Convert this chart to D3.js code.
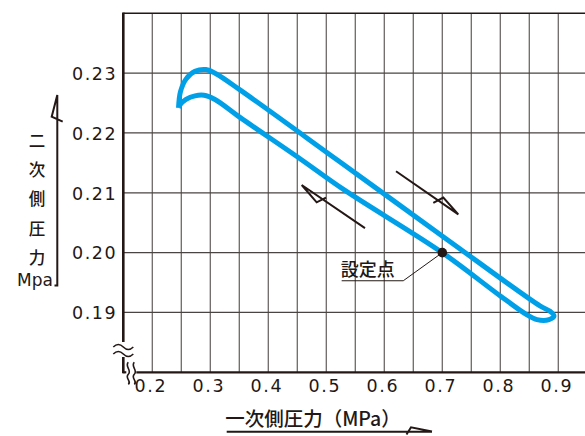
<!DOCTYPE html>
<html><head><meta charset="utf-8">
<script src="https://cdn.jsdelivr.net/npm/d3@7"></script>
<style>body{margin:0;background:#fff}svg{display:block}</style>
</head><body>
<svg id="c" width="585" height="436"></svg>
<script>
// ---- data ----
const xTickValues = [0.2, 0.3, 0.4, 0.5, 0.6, 0.7, 0.8, 0.9];
const xTickLabels = ["0.2", "0.3", "0.4", "0.5", "0.6", "0.7", "0.8", "0.9"];
const xGridValues = [0.2, 0.25, 0.3, 0.35, 0.4, 0.45, 0.5, 0.55, 0.6, 0.65, 0.7, 0.75, 0.8, 0.85, 0.9, 0.95];
const yTickValues = [0.19, 0.20, 0.21, 0.22, 0.23];
const yTickLabels = ["0.19", "0.20", "0.21", "0.22", "0.23"];
// hysteresis loop (primary pressure MPa, secondary pressure MPa)
const loopX = [0.2452, 0.2486, 0.2581, 0.2736, 0.2926, 0.3098, 0.3512, 0.5202, 0.7081, 0.8684, 0.8857, 0.8926, 0.8840, 0.8633, 0.8460, 0.7995, 0.7000, 0.5322, 0.4547, 0.3512, 0.3081, 0.2891, 0.2736, 0.2581, 0.2478, 0.2452];
const loopY = [0.2242, 0.2269, 0.2290, 0.2303, 0.2306, 0.2299, 0.2272, 0.2154, 0.2022, 0.1911, 0.1902, 0.1894, 0.1888, 0.1888, 0.1896, 0.1928, 0.2000, 0.2104, 0.2157, 0.2226, 0.2256, 0.2263, 0.2262, 0.2256, 0.2247, 0.2242];
const setPoint = [0.7, 0.20];
const setPointLabel = "設定点";
const leaderX = [0.5265, 0.6327, 0.7];
const leaderY = [0.1953, 0.1953, 0.20];
// direction arrows (shaft start, tip, barb, cross point)
const arrowUpX = [0.6202, 0.7276, 0.7017, 0.6845];
const arrowUpY = [0.2136, 0.2064, 0.2092, 0.2083];
const arrowDownX = [0.5667, 0.4576, 0.4834, 0.4995];
const arrowDownY = [0.2041, 0.2113, 0.2084, 0.2092];
const xTitle = "一次側圧力（MPa）";
const yTitleChars = ["二", "次", "側", "圧", "力"];
const yTitleUnit = "Mpa";

// ---- layout ----
const svg = d3.select("#c");
const dark = "#231815";
const blue = "#00a0e9";
const x = d3.scaleLinear().domain([0.15, 0.95]).range([123.3, 587.3]);
const y = d3.scaleLinear().domain([0.18, 0.24]).range([372.3, 13.3]);
const xL = x(0.15), xR = 585;

// vertical grid
svg.append("g").selectAll("line").data(xGridValues).join("line")
  .attr("x1", d => x(d)).attr("x2", d => x(d))
  .attr("y1", y(0.24)).attr("y2", y(0.18))
  .attr("stroke", "#6e6868").attr("stroke-width", 1.3);
// horizontal grid
svg.append("g").selectAll("line").data(yTickValues).join("line")
  .attr("x1", xL).attr("x2", xR)
  .attr("y1", d => y(d)).attr("y2", d => y(d))
  .attr("stroke", "#4a4444").attr("stroke-width", 1.2);
// top border
svg.append("line").attr("x1", xL).attr("x2", xR).attr("y1", y(0.24)).attr("y2", y(0.24))
  .attr("stroke", dark).attr("stroke-width", 1.5);

// left axis with break
const yb = y(0.18);
svg.append("line").attr("x1", xL).attr("x2", xL).attr("y1", y(0.24) - 0.7).attr("y2", 342)
  .attr("stroke", dark).attr("stroke-width", 2.6);
svg.append("line").attr("x1", xL).attr("x2", xL).attr("y1", 357).attr("y2", yb + 1)
  .attr("stroke", dark).attr("stroke-width", 2.6);
[346, 353].forEach(yy => {
  svg.append("path").attr("d", `M${xL-10},${yy+1} q5,-5 10,0 t10,0`)
    .attr("fill", "none").attr("stroke", dark).attr("stroke-width", 1.6);
});
// bottom axis with break
svg.append("line").attr("x1", xL).attr("x2", xL + 3).attr("y1", yb).attr("y2", yb)
  .attr("stroke", dark).attr("stroke-width", 2.2);
svg.append("line").attr("x1", xL + 13).attr("x2", xR).attr("y1", yb).attr("y2", yb)
  .attr("stroke", dark).attr("stroke-width", 2.2);
[xL + 5, xL + 11].forEach(xx => {
  svg.append("path").attr("d", `M${xx},${yb-10} c-4,4 4,8 0,12 s4,7 0,10`)
    .attr("fill", "none").attr("stroke", dark).attr("stroke-width", 1.6);
});

// x tick labels
const xAxis = d3.axisBottom(x).tickValues(xTickValues).tickSize(0)
  .tickFormat((d, i) => xTickLabels[i]);
const gx = svg.append("g").attr("transform", `translate(-2,${yb})`).call(xAxis);
gx.select(".domain").remove();
gx.selectAll("text").attr("dy", null).attr("y", 20)
  .attr("font-family", "DejaVu Sans, sans-serif").attr("font-size", 17.5)
  .attr("letter-spacing", 1.6).attr("fill", dark);

// y tick labels
const yAxis = d3.axisLeft(y).tickValues(yTickValues).tickSize(0)
  .tickFormat((d, i) => yTickLabels[i]);
const gy = svg.append("g").attr("transform", `translate(${xL - 6},0)`).call(yAxis);
gy.select(".domain").remove();
gy.selectAll("text").attr("x", 0).attr("dy", "0.36em")
  .attr("font-family", "DejaVu Sans, sans-serif").attr("font-size", 17.5)
  .attr("letter-spacing", 1.6).attr("fill", dark);

// loop curve
const pts = loopX.map((v, i) => [v, loopY[i]]);
svg.append("path").datum(pts)
  .attr("d", d3.line().x(d => x(d[0])).y(d => y(d[1])).curve(d3.curveCatmullRom.alpha(0.5)))
  .attr("fill", "none").attr("stroke", blue).attr("stroke-width", 5)
  .attr("stroke-linejoin", "round");

// direction arrows
const aLine = d3.line().x(d => x(d[0])).y(d => y(d[1]));
[[arrowUpX, arrowUpY], [arrowDownX, arrowDownY]].forEach(([ax, ay]) => {
  svg.append("path").attr("d", aLine(ax.map((v, i) => [v, ay[i]])))
    .attr("fill", "none").attr("stroke", dark).attr("stroke-width", 2)
    .attr("stroke-linejoin", "miter");
});

// set point
svg.append("path").attr("d", aLine(leaderX.map((v, i) => [v, leaderY[i]])))
  .attr("fill", "none").attr("stroke", dark).attr("stroke-width", 1);
svg.append("circle").attr("cx", x(setPoint[0])).attr("cy", y(setPoint[1])).attr("r", 4.8)
  .attr("fill", dark);
svg.append("text").attr("x", x(leaderX[0]) - 1).attr("y", y(leaderY[0]) - 5)
  .attr("font-family", "Noto Sans CJK JP, sans-serif").attr("font-weight", 500)
  .attr("font-size", 18).attr("fill", dark).text(setPointLabel);

// x title with arrow underline
svg.append("text").attr("x", 313).attr("y", 426).attr("text-anchor", "middle")
  .attr("font-family", "Noto Sans CJK JP, sans-serif").attr("font-weight", 500)
  .attr("font-size", 19.5).attr("fill", dark).text(xTitle);
svg.append("path").attr("d", "M226.7,431.7 H432 M406.5,434.5 L411,427.3 L432,431.5")
  .attr("fill", "none").attr("stroke", dark).attr("stroke-width", 2);

// y title with arrow
yTitleChars.forEach((c, i) => {
  svg.append("text").attr("x", 37).attr("y", 141 + i * 29.2).attr("dy", "0.36em")
    .attr("text-anchor", "middle")
    .attr("font-family", "Noto Sans CJK JP, sans-serif").attr("font-weight", 500)
    .attr("font-size", 16.5).attr("fill", dark).text(c);
});
svg.append("text").attr("x", 35).attr("y", 280).attr("dy", "0.36em").attr("text-anchor", "middle")
  .attr("font-family", "DejaVu Sans, sans-serif").attr("font-size", 17).attr("fill", dark)
  .text(yTitleUnit);
svg.append("path").attr("d", "M54.5,285.5 H57.3 V95 L51.7,116.7 L62.7,121.7")
  .attr("fill", "none").attr("stroke", dark).attr("stroke-width", 2);
</script>
</body></html>
